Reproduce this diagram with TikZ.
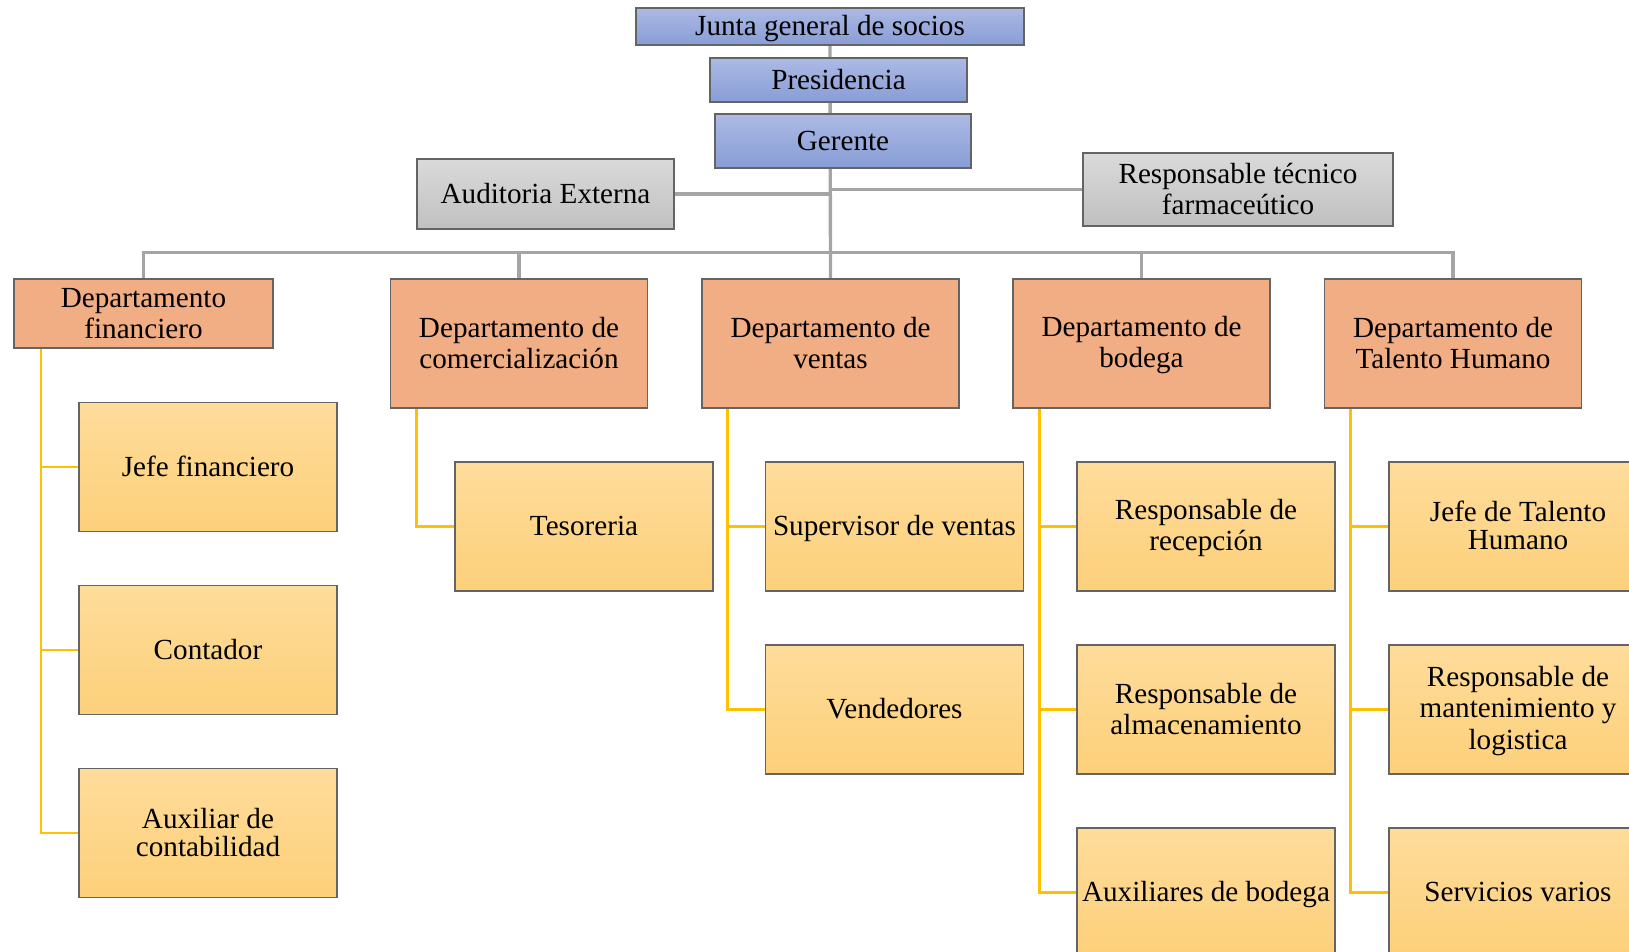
\documentclass[tikz,border=0pt]{standalone}
\usepackage{fontspec}
\setmainfont{Liberation Serif}
\usetikzlibrary{backgrounds}
\newcommand\ls{\rule[-2.6pt]{0pt}{15.9pt}}
\definecolor{bluet}{RGB}{172,186,228}
\definecolor{blueb}{RGB}{136,157,214}
\definecolor{grayt}{RGB}{218,218,218}
\definecolor{grayb}{RGB}{192,192,192}
\definecolor{salmon}{RGB}{241,173,131}
\definecolor{yelt}{RGB}{254,220,155}
\definecolor{yelb}{RGB}{253,208,122}
\definecolor{bordc}{RGB}{100,100,100}
\definecolor{gline}{RGB}{165,165,165}
\definecolor{yline}{RGB}{255,192,0}
\begin{document}
\begin{tikzpicture}[x=0.02cm,y=-0.02cm,
  box/.style={draw=bordc, line width=0.7pt, inner sep=1pt, outer sep=0pt, align=center,
    font=\fontsize{16.6}{15.9}\selectfont},
  bluebox/.style={box, top color=bluet, bottom color=blueb},
  graybox/.style={box, top color=grayt, bottom color=grayb},
  deptbox/.style={box, fill=salmon, minimum width={257*0.02cm}, minimum height={129*0.02cm}},
  childbox/.style={box, top color=yelt, bottom color=yelb, minimum width={258*0.02cm}, minimum height={129*0.02cm}},
  gl/.style={draw=gline, line width=1.9pt},
  yl/.style={draw=yline, line width=1.7pt}]
\useasboundingbox (0,0) rectangle (1629,952);
\clip (0,0) rectangle (1629,952);
% top
\node[bluebox, minimum width={388*0.02cm}, minimum height={37*0.02cm}] (junta) at (830,26.5) {\ls Junta general de socios};
\node[bluebox, minimum width={257*0.02cm}, minimum height={44*0.02cm}] (pres) at (838.5,80) {\ls Presidencia};
\node[bluebox, minimum width={256*0.02cm}, minimum height={54*0.02cm}] (ger) at (843,141) {\ls Gerente};
\node[graybox, minimum width={257*0.02cm}, minimum height={70*0.02cm}] (aud) at (545.5,194) {\ls Auditoria Externa};
\node[graybox, minimum width={310*0.02cm}, minimum height={73*0.02cm}] (rtf) at (1238,189.5) {\ls Responsable técnico\\\ls farmaceútico};
% departments
\node[deptbox, minimum width={259*0.02cm}, minimum height={69*0.02cm}] (fin) at (143.5,313.5) {\ls Departamento\\\ls financiero};
\node[deptbox] (com) at (519,343.5) {\ls Departamento de\\\ls comercialización};
\node[deptbox] (ven) at (830.5,343.5) {\ls Departamento de\\\ls ventas};
\node[deptbox] (bod) at (1141.5,343.5) {\ls Departamento de\\\ls bodega};
\node[deptbox] (tal) at (1453,343.5) {\ls Departamento de\\\ls Talento Humano};
% children
\node[childbox] (f1) at (208,467) {\ls Jefe financiero};
\node[childbox] (f2) at (208,650) {\ls Contador};
\node[childbox] (f3) at (208,833) {\ls Auxiliar de\\\ls contabilidad};
\node[childbox] (c1) at (584,526.5) {\ls Tesoreria};
\node[childbox] (v1) at (894.5,526.5) {\ls Supervisor de ventas};
\node[childbox] (v2) at (894.5,709.5) {\ls Vendedores};
\node[childbox] (b1) at (1206,526.5) {\ls Responsable de\\\ls recepción};
\node[childbox] (b2) at (1206,709.5) {\ls Responsable de\\\ls almacenamiento};
\node[childbox] (b3) at (1206,892.5) {\ls Auxiliares de bodega};
\node[childbox] (t1) at (1518,526.5) {\ls Jefe de Talento\\\ls Humano};
\node[childbox] (t2) at (1518,709.5) {\ls Responsable de\\\ls mantenimiento y\\\ls logistica};
\node[childbox] (t3) at (1518,892.5) {\ls Servicios varios};
\coordinate (bus) at (830,252.5);
\begin{scope}[on background layer]
\draw[gl] (junta.south) -- (ven.north);
\draw[gl] (aud.east) -- (aud.east -| junta.south);
\draw[gl] (rtf.west) -- (rtf.west -| junta.south);
\draw[gl] (fin.north) |- (bus) -| (tal.north);
\draw[gl] (com.north) -- (com.north |- bus);
\draw[gl] (bod.north) -- (bod.north |- bus);
\draw[yl] ([xshift={27*0.02cm}]fin.south west) |- (f3.west);
\draw[yl] ([xshift={27*0.02cm}]fin.south west |- f1.west) -- (f1.west);
\draw[yl] ([xshift={27*0.02cm}]fin.south west |- f2.west) -- (f2.west);
\draw[yl] ([xshift={26*0.02cm}]com.south west) |- (c1.west);
\draw[yl] ([xshift={25*0.02cm}]ven.south west) |- (v2.west);
\draw[yl] ([xshift={25*0.02cm}]ven.south west |- v1.west) -- (v1.west);
\draw[yl] ([xshift={26*0.02cm}]bod.south west) |- (b3.west);
\draw[yl] ([xshift={26*0.02cm}]bod.south west |- b1.west) -- (b1.west);
\draw[yl] ([xshift={26*0.02cm}]bod.south west |- b2.west) -- (b2.west);
\draw[yl] ([xshift={26*0.02cm}]tal.south west) |- (t3.west);
\draw[yl] ([xshift={26*0.02cm}]tal.south west |- t1.west) -- (t1.west);
\draw[yl] ([xshift={26*0.02cm}]tal.south west |- t2.west) -- (t2.west);
\end{scope}
\end{tikzpicture}
\end{document}
